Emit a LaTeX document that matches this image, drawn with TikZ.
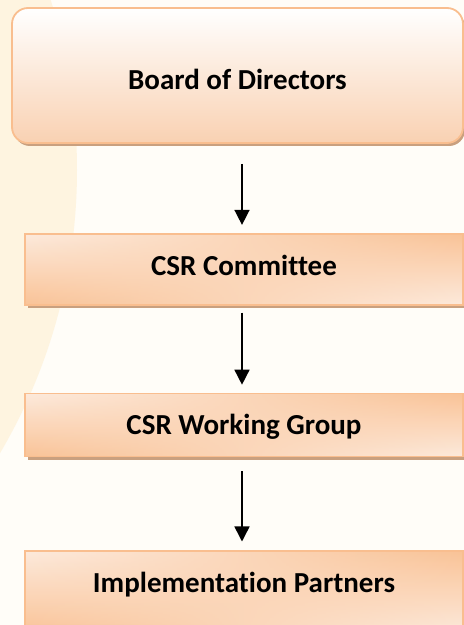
\documentclass[tikz,border=0pt]{standalone}
\usepackage{fontspec}
\setmainfont{Carlito}[Ligatures=NoCommon]
\usepackage{tikz}
\usetikzlibrary{positioning,arrows.meta,shadows,fadings}
\definecolor{bgc}{HTML}{FFFDF8}
\definecolor{sidec}{HTML}{FEF4E0}
\definecolor{edgec}{HTML}{F9BE8F}
\definecolor{shadowc}{HTML}{C9A07F}
\definecolor{peachc}{HTML}{F9C397}
\definecolor{lightc}{HTML}{FDEADC}
\definecolor{boardc}{HTML}{F9D1B2}
\tikzfading[name=lefttoright, left color=transparent!100, right color=transparent!0]

\begin{document}
\begin{tikzpicture}[x=1pt,y=1pt,line width=1.5pt,
	rolebox/.style={draw=edgec,line width=1.8pt,minimum width=438pt,
		font=\fontsize{29}{34}\selectfont\bfseries,text depth=0pt,
		top color=lightc,bottom color=peachc,
		drop shadow={shadow xshift=3pt,shadow yshift=-3pt,fill=shadowc,opacity=1},
		postaction={path fading=lefttoright,top color=peachc,bottom color=lightc},
		postaction={draw=edgec,line width=1.8pt}},
	boardbox/.style={draw=edgec,line width=1.8pt,rounded corners=16pt,
		minimum width=451pt,minimum height=135pt,
		font=\fontsize{29}{34}\selectfont\bfseries,text depth=0pt,text height=28.7pt,
		top color=white,bottom color=boardc,
		drop shadow={shadow xshift=2pt,shadow yshift=-3pt,fill=shadowc,opacity=1}},
	flow/.style={-{Triangle[width=15pt,length=15pt]},line width=1.5pt}]
	\useasboundingbox (0,0) rectangle (464,625);
	\fill[bgc] (0,0) rectangle (464,625);
	\begin{scope}
		\clip (0,0) rectangle (464,625);
		\fill[sidec] (-481.6,455) circle (558.6);
	\end{scope}
	% boxes
	\node[boardbox] (bod) at (237.5,549.5) {Board of Directors};
	\node[rolebox,minimum height=71pt,text height=11.7pt,below=89pt of bod,xshift=6.5pt] (csr) {CSR Committee};
	\node[rolebox,minimum height=63pt,text height=18.7pt,below=87pt of csr] (wg) {CSR Working Group};
	\node[rolebox,minimum height=82pt,text height=0.7pt,below=93pt of wg] (ip) {Implementation Partners};
	% arrows
	\coordinate (axis) at (242,0);
	\draw[flow,shorten <=20pt,shorten >=8pt] (bod.south -| axis) -- (csr.north -| axis);
	\draw[flow,shorten <=7pt,shorten >=8pt] (csr.south -| axis) -- (wg.north -| axis);
	\draw[flow,shorten <=14pt,shorten >=9pt] (wg.south -| axis) -- (ip.north -| axis);
\end{tikzpicture}
\end{document}
